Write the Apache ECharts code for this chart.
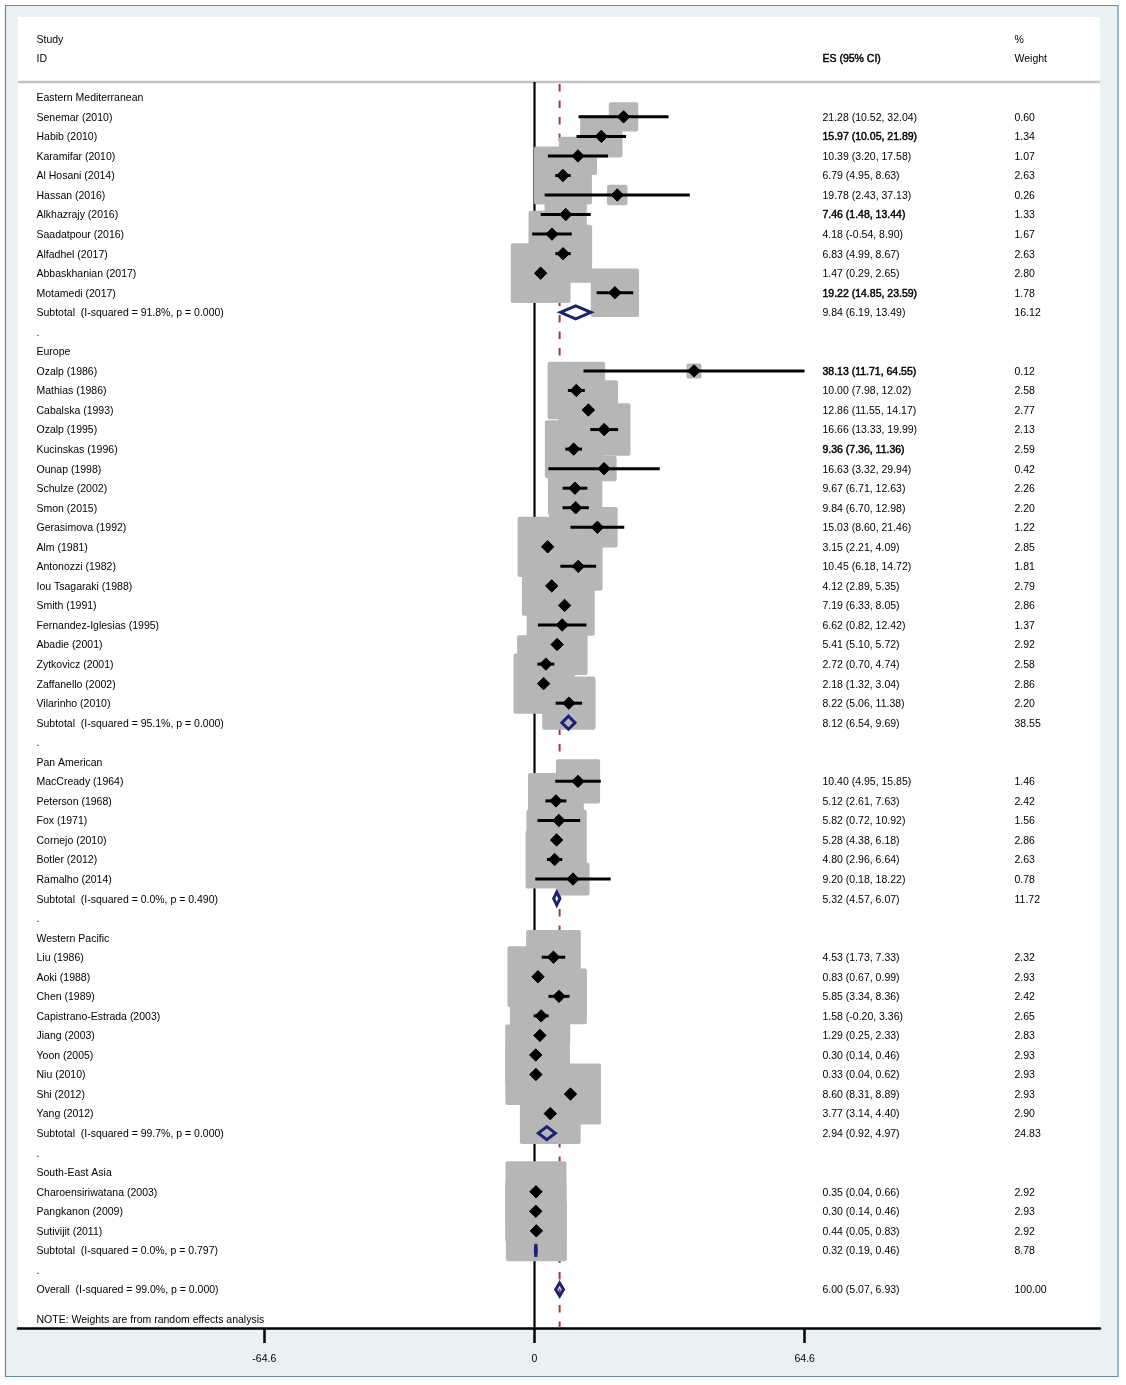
<!DOCTYPE html>
<html>
<head>
<meta charset="utf-8">
<script src="https://cdn.jsdelivr.net/npm/echarts@6/dist/echarts.min.js"></script>
<style>
html,body{margin:0;padding:0;background:#fff;}
#c{width:1126px;height:1385px;}
</style>
</head>
<body>
<div id="c"></div>
<script>
// ---------------- DATA ----------------
const rowLabels = [
  'Eastern Mediterranean',
  'Senemar (2010)', 'Habib (2010)', 'Karamifar (2010)', 'Al Hosani (2014)', 'Hassan (2016)',
  'Alkhazrajy (2016)', 'Saadatpour (2016)', 'Alfadhel (2017)', 'Abbaskhanian (2017)', 'Motamedi (2017)',
  'Subtotal  (I-squared = 91.8%, p = 0.000)',
  '.',
  'Europe',
  'Ozalp (1986)', 'Mathias (1986)', 'Cabalska (1993)', 'Ozalp (1995)', 'Kucinskas (1996)',
  'Ounap (1998)', 'Schulze (2002)', 'Smon (2015)', 'Gerasimova (1992)', 'Alm (1981)',
  'Antonozzi (1982)', 'Iou Tsagaraki (1988)', 'Smith (1991)', 'Fernandez-Iglesias (1995)', 'Abadie (2001)',
  'Zytkovicz (2001)', 'Zaffanello (2002)', 'Vilarinho (2010)',
  'Subtotal  (I-squared = 95.1%, p = 0.000)',
  '.',
  'Pan American',
  'MacCready (1964)', 'Peterson (1968)', 'Fox (1971)', 'Cornejo (2010)', 'Botler (2012)', 'Ramalho (2014)',
  'Subtotal  (I-squared = 0.0%, p = 0.490)',
  '.',
  'Western Pacific',
  'Liu (1986)', 'Aoki (1988)', 'Chen (1989)', 'Capistrano-Estrada (2003)', 'Jiang (2003)',
  'Yoon (2005)', 'Niu (2010)', 'Shi (2012)', 'Yang (2012)',
  'Subtotal  (I-squared = 99.7%, p = 0.000)',
  '.',
  'South-East Asia',
  'Charoensiriwatana (2003)', 'Pangkanon (2009)', 'Sutivijit (2011)',
  'Subtotal  (I-squared = 0.0%, p = 0.797)',
  '.',
  'Overall  (I-squared = 99.0%, p = 0.000)'
];
// h = region header, s = study, t = subtotal, b = blank, o = overall
const rowKinds = [
  'h','s','s','s','s','s','s','s','s','s','s','t','b',
  'h','s','s','s','s','s','s','s','s','s','s','s','s','s','s','s','s','s','s','t','b',
  'h','s','s','s','s','s','s','t','b',
  'h','s','s','s','s','s','s','s','s','s','t','b',
  'h','s','s','s','t','b',
  'o'
];
const esVals = [
  null, 21.28, 15.97, 10.39, 6.79, 19.78, 7.46, 4.18, 6.83, 1.47, 19.22, 9.84, null,
  null, 38.13, 10.00, 12.86, 16.66, 9.36, 16.63, 9.67, 9.84, 15.03, 3.15, 10.45, 4.12, 7.19, 6.62, 5.41, 2.72, 2.18, 8.22, 8.12, null,
  null, 10.40, 5.12, 5.82, 5.28, 4.80, 9.20, 5.32, null,
  null, 4.53, 0.83, 5.85, 1.58, 1.29, 0.30, 0.33, 8.60, 3.77, 2.94, null,
  null, 0.35, 0.30, 0.44, 0.32, null,
  6.00
];
const ciLow = [
  null, 10.52, 10.05, 3.20, 4.95, 2.43, 1.48, -0.54, 4.99, 0.29, 14.85, 6.19, null,
  null, 11.71, 7.98, 11.55, 13.33, 7.36, 3.32, 6.71, 6.70, 8.60, 2.21, 6.18, 2.89, 6.33, 0.82, 5.10, 0.70, 1.32, 5.06, 6.54, null,
  null, 4.95, 2.61, 0.72, 4.38, 2.96, 0.18, 4.57, null,
  null, 1.73, 0.67, 3.34, -0.20, 0.25, 0.14, 0.04, 8.31, 3.14, 0.92, null,
  null, 0.04, 0.14, 0.05, 0.19, null,
  5.07
];
const ciHigh = [
  null, 32.04, 21.89, 17.58, 8.63, 37.13, 13.44, 8.90, 8.67, 2.65, 23.59, 13.49, null,
  null, 64.55, 12.02, 14.17, 19.99, 11.36, 29.94, 12.63, 12.98, 21.46, 4.09, 14.72, 5.35, 8.05, 12.42, 5.72, 4.74, 3.04, 11.38, 9.69, null,
  null, 15.85, 7.63, 10.92, 6.18, 6.64, 18.22, 6.07, null,
  null, 7.33, 0.99, 8.36, 3.36, 2.33, 0.46, 0.62, 8.89, 4.40, 4.97, null,
  null, 0.66, 0.46, 0.83, 0.46, null,
  6.93
];
const weights = [
  null, 0.60, 1.34, 1.07, 2.63, 0.26, 1.33, 1.67, 2.63, 2.80, 1.78, 16.12, null,
  null, 0.12, 2.58, 2.77, 2.13, 2.59, 0.42, 2.26, 2.20, 1.22, 2.85, 1.81, 2.79, 2.86, 1.37, 2.92, 2.58, 2.86, 2.20, 38.55, null,
  null, 1.46, 2.42, 1.56, 2.86, 2.63, 0.78, 11.72, null,
  null, 2.32, 2.93, 2.42, 2.65, 2.83, 2.93, 2.93, 2.93, 2.90, 24.83, null,
  null, 2.92, 2.93, 2.92, 8.78, null,
  100.00
];
const xTicks = [-64.6, 0, 64.6];
const noteText = 'NOTE: Weights are from random effects analysis';

// ---------------- STYLE ----------------
const FONT = '"Liberation Sans", Arial, Helvetica, sans-serif';
const FS = 10.5;
const TEXT_DY = 1;
const heavyEsRows = [2, 6, 10, 14, 18];
const overallIdx = rowKinds.indexOf('o');
const overallES = esVals[overallIdx];

const studyData = [], sumData = [];
rowKinds.forEach((k, i) => {
  if (k === 's') studyData.push([esVals[i], i, ciLow[i], ciHigh[i], weights[i]]);
  if (k === 't' || k === 'o') sumData.push([esVals[i], i, ciLow[i], ciHigh[i], weights[i]]);
});
const textData = rowLabels.map((l, i) => [0, i, i]);
textData.push([0, rowLabels.length + 0.5, -1]);

const Y_MIN = -0.783, Y_MAX = 62.97;

function txt(x, y, text, opts) {
  opts = opts || {};
  return {
    type: 'text', x: x, y: y + TEXT_DY,
    style: Object.assign({
      text: text, fill: '#000', fontSize: FS, fontFamily: FONT,
      align: 'left', verticalAlign: 'middle'
    }, opts)
  };
}

const chart = echarts.init(document.getElementById('c'), null, {renderer: 'canvas'});
chart.setOption({
  animation: false,
  backgroundColor: '#ffffff',
  grid: {left: 18, right: 26, top: 82, bottom: 57, containLabel: false},
  xAxis: {
    type: 'value', min: -123.48, max: 135.19,
    splitLine: {show: false},
    axisLine: {show: true, onZero: false, lineStyle: {color: '#000', width: 2.5}},
    axisTick: {show: true, customValues: xTicks, length: 15, lineStyle: {color: '#000', width: 2.5}},
    axisLabel: {
      show: true, customValues: xTicks, margin: 26, fontSize: FS, fontFamily: FONT, color: '#000',
      formatter: v => (Math.abs(v) < 1e-9 ? '0' : String(v))
    }
  },
  yAxis: {
    type: 'value', inverse: true, min: Y_MIN, max: Y_MAX,
    show: false, splitLine: {show: false}
  },
  graphic: [
    {type: 'rect', z: -20, silent: true, shape: {x: 5.5, y: 5.5, width: 1112.5, height: 1371},
      style: {fill: '#e9f1f5', stroke: '#5f8ab4', lineWidth: 1.2}},
    {type: 'rect', z: -19, silent: true, shape: {x: 18, y: 17, width: 1082, height: 1311},
      style: {fill: '#ffffff'}},
    {type: 'line', z: -18, silent: true, shape: {x1: 18, y1: 82, x2: 1100, y2: 82},
      style: {stroke: '#c4c4c4', lineWidth: 2.5}},
    Object.assign(txt(36.5, 39.5, 'Study'), {z: 10}),
    Object.assign(txt(36.5, 58.5, 'ID'), {z: 10}),
    Object.assign(txt(822.5, 58.5, 'ES (95% CI)', {stroke: '#000', lineWidth: 0.45}), {z: 10}),
    Object.assign(txt(1014.5, 39.5, '%'), {z: 10}),
    Object.assign(txt(1014.5, 58.5, 'Weight'), {z: 10})
  ],
  series: [
    {
      // reference lines: zero (solid) and overall estimate (dashed)
      type: 'custom', name: 'refLines', z: 1, silent: true,
      data: [[0, overallES]],
      renderItem: (params, api) => {
        const z0 = api.coord([api.value(0), Y_MIN]);
        const z1 = api.coord([api.value(0), Y_MAX]);
        const o0 = api.coord([api.value(1), Y_MIN]);
        const o1 = api.coord([api.value(1), Y_MAX]);
        return {type: 'group', children: [
          {type: 'line', shape: {x1: z0[0], y1: z0[1], x2: z1[0], y2: z1[1]},
            style: {stroke: '#000', lineWidth: 2.2}},
          {type: 'line', shape: {x1: o0[0], y1: o0[1] + 2, x2: o1[0], y2: o1[1]},
            style: {stroke: '#9b3a48', lineWidth: 2, lineDash: [7.5, 9]}}
        ]};
      }
    },
    {
      type: 'custom', name: 'weightBoxes', z: 3, silent: true,
      data: studyData,
      encode: {x: 0, y: 1},
      renderItem: (params, api) => {
        const c = api.coord([api.value(0), api.value(1)]);
        const s = 3.3 + 33.75 * Math.sqrt(api.value(4));
        return {type: 'rect', shape: {x: c[0] - s / 2, y: c[1] - s / 2, width: s, height: s, r: 2},
          style: {fill: '#b6b6b6'}};
      }
    },
    {
      type: 'custom', name: 'studyCI', z: 4, silent: true,
      data: studyData,
      encode: {x: 0, y: 1},
      renderItem: (params, api) => {
        const c = api.coord([api.value(0), api.value(1)]);
        const lo = api.coord([api.value(2), api.value(1)]);
        const hi = api.coord([api.value(3), api.value(1)]);
        const d = 6.2;
        return {type: 'group', children: [
          {type: 'line', shape: {x1: lo[0], y1: c[1], x2: hi[0], y2: c[1]},
            style: {stroke: '#000', lineWidth: 3}},
          {type: 'polygon', shape: {points: [[c[0] - d, c[1]], [c[0], c[1] - d], [c[0] + d, c[1]], [c[0], c[1] + d]]},
            style: {fill: '#000', stroke: '#000', lineWidth: 1, lineJoin: 'round'}}
        ]};
      }
    },
    {
      type: 'custom', name: 'pooled', z: 5, silent: true,
      data: sumData,
      encode: {x: 0, y: 1},
      renderItem: (params, api) => {
        const c = api.coord([api.value(0), api.value(1)]);
        const lo = api.coord([api.value(2), api.value(1)]);
        const hi = api.coord([api.value(3), api.value(1)]);
        const h = 6.5;
        return {type: 'polygon',
          shape: {points: [[lo[0], c[1]], [c[0], c[1] - h], [hi[0], c[1]], [c[0], c[1] + h]]},
          style: {fill: 'none', stroke: '#1c2077', lineWidth: 3, lineJoin: 'miter'}};
      }
    },
    {
      type: 'custom', name: 'texts', z: 6, silent: true,
      data: textData,
      encode: {x: 0, y: 1},
      renderItem: (params, api) => {
        const y = api.coord([0, api.value(1)])[1];
        const i = api.value(2);
        if (i < 0) return txt(36.5, y, noteText);
        const kids = [txt(36.5, y, rowLabels[i])];
        if (esVals[i] != null) {
          const s = esVals[i].toFixed(2) + ' (' + ciLow[i].toFixed(2) + ', ' + ciHigh[i].toFixed(2) + ')';
          const heavy = heavyEsRows.indexOf(i) >= 0;
          kids.push(txt(822.5, y, s, heavy ? {stroke: '#000', lineWidth: 0.45} : {}));
          kids.push(txt(1014.5, y, weights[i].toFixed(2)));
        }
        return {type: 'group', children: kids};
      }
    }
  ]
});
</script>
</body>
</html>
